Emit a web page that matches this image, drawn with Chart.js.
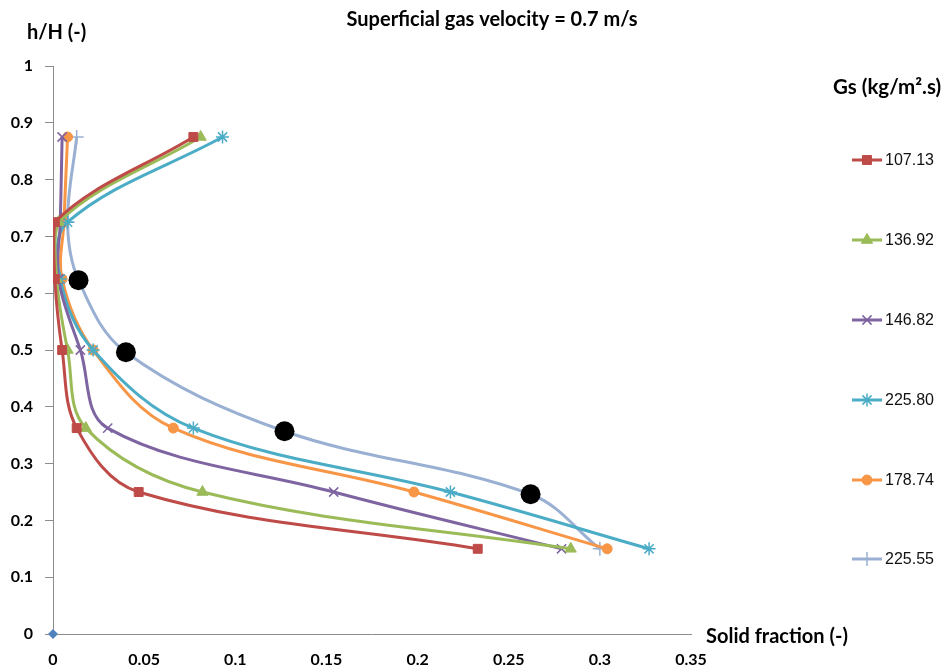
<!DOCTYPE html>
<html>
<head>
<meta charset="utf-8">
<script src="https://cdn.jsdelivr.net/npm/chart.js@4/dist/chart.umd.min.js"></script>
<style>
  html, body { margin: 0; padding: 0; background: #fff; }
  canvas { display: block; }
</style>
</head>
<body>
<canvas id="c" width="952" height="669"></canvas>
<script>
// Solid fraction (x) against relative height h/H (y) for each solids flux Gs
const HEIGHTS = [0.875, 0.725, 0.625, 0.5, 0.3625, 0.25, 0.15];

const GS_LABELS = ['107.13', '136.92', '146.82', '225.80', '178.74', '225.55'];

const FRAC_107_13 = [0.077, 0.001, 0.001, 0.005, 0.013, 0.047, 0.233];
const FRAC_136_92 = [0.081, 0.003, 0.002, 0.008, 0.018, 0.082, 0.284];
const FRAC_146_82 = [0.005, 0.004, 0.003, 0.015, 0.030, 0.154, 0.279];
const FRAC_225_80 = [0.093, 0.008, 0.004, 0.022, 0.077, 0.218, 0.327];
const FRAC_178_74 = [0.008, 0.006, 0.005, 0.022, 0.066, 0.198, 0.304];

// 225.55 series has its own heights
const HEIGHTS_225_55 = [0.875, 0.725, 0.623, 0.496, 0.357, 0.246, 0.15];
const FRAC_225_55 = [0.013, 0.008, 0.014, 0.040, 0.127, 0.262, 0.300];

// highlighted points
const HILITE_X = [0.014, 0.040, 0.127, 0.262];
const HILITE_Y = [0.623, 0.496, 0.357, 0.246];

// origin point
const ORIGIN_X = [0];
const ORIGIN_Y = [0];

const X_TICK_LABELS = ['0', '0.05', '0.1', '0.15', '0.2', '0.25', '0.3', '0.35'];
const Y_TICK_LABELS = ['0', '0.1', '0.2', '0.3', '0.4', '0.5', '0.6', '0.7', '0.8', '0.9', '1'];

const TITLE = 'Superficial gas velocity = 0.7 m/s';
const Y_TITLE = 'h/H (-)';
const X_TITLE = 'Solid fraction (-)';
const LEGEND_TITLE = 'Gs (kg/m\u00B2.s)';

function pts(xs, ys) { return xs.map((x, i) => ({ x: x, y: ys[i] })); }

const SERIES_STYLE = [
  { color: '#BE4B48', pointStyle: 'rect', radius: 6.3, pbw: 1 },
  { color: '#9BBB59', pointStyle: 'triangle', radius: 6.5, pbw: 1 },
  { color: '#7E64A0', pointStyle: 'crossRot', radius: 6.5, pbw: 1.5 },
  { color: '#4BACC6', pointStyle: 'star', radius: 6.5, pbw: 1.5 },
  { color: '#F79646', pointStyle: 'circle', radius: 5, pbw: 1 },
  { color: '#9AB0D3', pointStyle: 'cross', radius: 7, pbw: 1.5 }
];

const SERIES_DATA = [
  pts(FRAC_107_13, HEIGHTS),
  pts(FRAC_136_92, HEIGHTS),
  pts(FRAC_146_82, HEIGHTS),
  pts(FRAC_225_80, HEIGHTS),
  pts(FRAC_178_74, HEIGHTS),
  pts(FRAC_225_55, HEIGHTS_225_55)
];

const datasets = SERIES_DATA.map((d, i) => {
  const s = SERIES_STYLE[i];
  return {
    label: GS_LABELS[i],
    data: d,
    showLine: true,
    tension: 0.36,
    borderColor: s.color,
    backgroundColor: s.color,
    borderWidth: 3,
    pointStyle: s.pointStyle,
    pointRadius: s.radius,
    pointBorderWidth: s.pbw,
    pointBackgroundColor: s.color,
    pointBorderColor: s.color,
    order: 2 + i
  };
});

datasets.push({
  label: 'highlight',
  data: pts(HILITE_X, HILITE_Y),
  showLine: false,
  pointStyle: 'circle',
  pointRadius: 10,
  pointBackgroundColor: '#000',
  pointBorderColor: '#000',
  pointBorderWidth: 0,
  order: 0,
  inLegend: false
});

datasets.push({
  label: 'origin',
  data: pts(ORIGIN_X, ORIGIN_Y),
  showLine: false,
  pointStyle: 'rectRot',
  pointRadius: 5,
  pointBackgroundColor: '#4F81BD',
  pointBorderColor: '#4F81BD',
  pointBorderWidth: 0,
  clip: false,
  order: 1,
  inLegend: false
});

// titles and the Gs legend
const decorations = {
  id: 'decorations',
  afterDraw(chart) {
    const ctx = chart.ctx;
    ctx.save();
    ctx.fillStyle = '#000';
    ctx.textBaseline = 'middle';

    ctx.font = 'bold 20px Lato';
    ctx.textAlign = 'center';
    ctx.fillText(TITLE, 492, 20);

    ctx.textAlign = 'left';
    ctx.font = 'bold 20px Lato';
    ctx.fillText(Y_TITLE, 27, 33);

    ctx.font = 'bold 20px Lato';
    ctx.fillText(X_TITLE, 706, 637);

    ctx.font = 'bold 20.5px Lato';
    ctx.fillText(LEGEND_TITLE, 833, 87);

    const rowY = [160, 240, 320, 400, 480, 559];
    const lx0 = 852, lx1 = 882;
    let row = 0;
    chart.data.datasets.forEach((ds) => {
      if (ds.inLegend === false) return;
      const y = rowY[row++];
      ctx.strokeStyle = ds.borderColor;
      ctx.lineWidth = ds.borderWidth;
      ctx.beginPath();
      ctx.moveTo(lx0, y);
      ctx.lineTo(lx1, y);
      ctx.stroke();
      ctx.fillStyle = ds.pointBackgroundColor;
      ctx.strokeStyle = ds.pointBorderColor;
      ctx.lineWidth = ds.pointBorderWidth;
      Chart.helpers.drawPoint(ctx, {
        pointStyle: ds.pointStyle,
        radius: ds.pointRadius,
        rotation: 0,
        borderWidth: ds.pointBorderWidth
      }, (lx0 + lx1) / 2, y);
      ctx.fillStyle = '#111';
      ctx.font = '16px "Liberation Sans"';
      ctx.textAlign = 'left';
      ctx.fillText(ds.label, 885, y + 1);
    });
    ctx.restore();
  }
};

const tickFont = { family: 'Lato', weight: 'bold', size: 16 };

new Chart(document.getElementById('c'), {
  type: 'scatter',
  data: { datasets: datasets },
  plugins: [decorations],
  options: {
    responsive: false,
    animation: false,
    events: [],
    layout: { padding: { left: 0, right: 261, top: 66, bottom: 0 } },
    plugins: {
      legend: { display: false },
      tooltip: { enabled: false },
      title: { display: false }
    },
    scales: {
      x: {
        type: 'linear',
        min: 0,
        max: 0.35,
        afterFit: (s) => { s.height = 35; },
        afterBuildTicks: (s) => { s.ticks = X_TICK_LABELS.map(Number).map(v => ({ value: v })); },
        ticks: {
          color: '#000',
          font: tickFont,
          padding: 16,
          maxRotation: 0,
          autoSkip: false,
          callback: (v, i) => X_TICK_LABELS[i]
        },
        grid: { drawOnChartArea: false, drawTicks: false },
        border: { display: true, color: '#8C8C8C', width: 1 }
      },
      y: {
        type: 'linear',
        min: 0,
        max: 1,
        afterFit: (s) => { s.width = 53; },
        afterBuildTicks: (s) => { s.ticks = Y_TICK_LABELS.map(Number).map(v => ({ value: v })); },
        ticks: {
          color: '#000',
          font: tickFont,
          padding: 12,
          autoSkip: false,
          callback: (v, i) => Y_TICK_LABELS[i]
        },
        grid: { drawOnChartArea: false, drawTicks: true, tickLength: 8, color: '#8C8C8C' },
        border: { display: true, color: '#8C8C8C', width: 1 }
      }
    }
  }
});
</script>
</body>
</html>
